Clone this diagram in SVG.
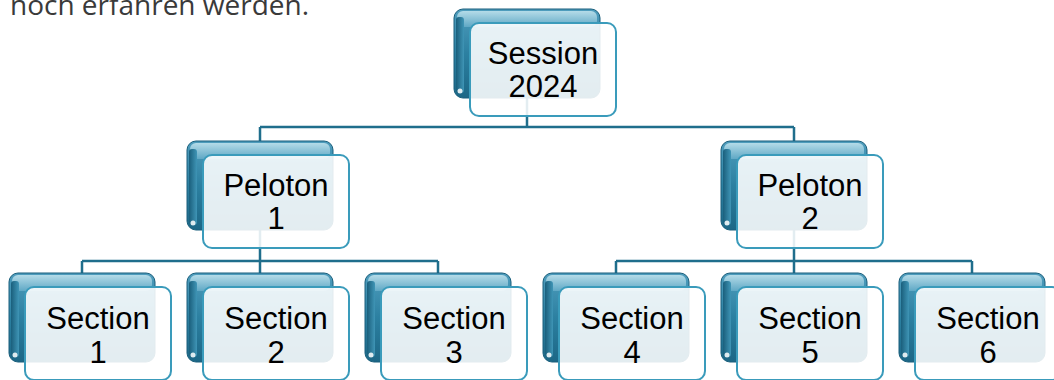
<svg xmlns="http://www.w3.org/2000/svg" width="1054" height="380" viewBox="0 0 1054 380">
<defs>
<linearGradient id="gBack" x1="0" y1="0" x2="0" y2="1">
<stop offset="0" stop-color="#4f9dbd"/>
<stop offset="0.5" stop-color="#2c80a1"/>
<stop offset="1" stop-color="#1c6786"/>
</linearGradient>
<linearGradient id="gHl" x1="0" y1="0" x2="0" y2="1">
<stop offset="0" stop-color="#b4dbe8"/>
<stop offset="1" stop-color="#5fa8c5"/>
</linearGradient>
<linearGradient id="gEdge" x1="0" y1="0" x2="1" y2="0">
<stop offset="0" stop-color="#1a5f7c"/>
<stop offset="1" stop-color="#3f95b6"/>
</linearGradient>
<style>
.back{fill:url(#gBack);stroke:#1a5f7c;stroke-width:1}
.hl{fill:url(#gHl)}
.edge{fill:url(#gEdge)}
.dot{fill:#ffffff;opacity:0.85}
.front{fill:#ffffff;fill-opacity:0.88;stroke:#3a9bbb;stroke-width:2}
.lbl{font-family:"Liberation Sans",Arial,sans-serif;font-size:31px;fill:#000000;text-anchor:middle}
.conn{fill:none;stroke:#1f6e8c;stroke-width:2.5}
.top{font-family:"Open Sans",sans-serif;font-size:28px;fill:#3a3a3a}
</style>
</defs>
<rect width="1054" height="380" fill="#ffffff"/>
<text class="top" x="10" y="15">noch erfahren werden.</text>
<g id="connectors">
<path class="conn" d="M527,98 V127 M260,127 H794 M260,127 V141 M794,127 V141"/>
<path class="conn" d="M260,230 V261 M82,261 H438 M82,261 V273 M260,261 V273 M438,261 V273"/>
<path class="conn" d="M794,230 V261 M616,261 H972 M616,261 V273 M794,261 V273 M972,261 V273"/>
</g>
<g id="session" transform="translate(454,9)">
<rect class="back" width="146" height="89" rx="9"/>
<rect class="hl" x="3" y="2" width="140" height="16" rx="6"/>
<rect class="edge" x="2" y="8" width="8" height="76" rx="3"/>
<circle class="dot" cx="6" cy="82" r="2.5"/>
<rect class="front" x="16" y="14" width="146" height="93" rx="9"/>
<text class="lbl" x="89" y="55">Session</text>
<text class="lbl" x="89" y="88">2024</text>
</g>
<g id="peloton1" transform="translate(187,141)">
<rect class="back" width="146" height="89" rx="9"/>
<rect class="hl" x="3" y="2" width="140" height="16" rx="6"/>
<rect class="edge" x="2" y="8" width="8" height="76" rx="3"/>
<circle class="dot" cx="6" cy="82" r="2.5"/>
<rect class="front" x="16" y="14" width="146" height="93" rx="9"/>
<text class="lbl" x="89" y="55">Peloton</text>
<text class="lbl" x="89" y="88">1</text>
</g>
<g id="peloton2" transform="translate(721,141)">
<rect class="back" width="146" height="89" rx="9"/>
<rect class="hl" x="3" y="2" width="140" height="16" rx="6"/>
<rect class="edge" x="2" y="8" width="8" height="76" rx="3"/>
<circle class="dot" cx="6" cy="82" r="2.5"/>
<rect class="front" x="16" y="14" width="146" height="93" rx="9"/>
<text class="lbl" x="89" y="55">Peloton</text>
<text class="lbl" x="89" y="88">2</text>
</g>
<g id="section1" transform="translate(9,273)">
<rect class="back" width="146" height="89" rx="9"/>
<rect class="hl" x="3" y="2" width="140" height="16" rx="6"/>
<rect class="edge" x="2" y="8" width="8" height="76" rx="3"/>
<circle class="dot" cx="6" cy="82" r="2.5"/>
<rect class="front" x="16" y="14" width="146" height="93" rx="9"/>
<text class="lbl" x="89" y="56">Section</text>
<text class="lbl" x="89" y="90">1</text>
</g>
<g id="section2" transform="translate(187,273)">
<rect class="back" width="146" height="89" rx="9"/>
<rect class="hl" x="3" y="2" width="140" height="16" rx="6"/>
<rect class="edge" x="2" y="8" width="8" height="76" rx="3"/>
<circle class="dot" cx="6" cy="82" r="2.5"/>
<rect class="front" x="16" y="14" width="146" height="93" rx="9"/>
<text class="lbl" x="89" y="56">Section</text>
<text class="lbl" x="89" y="90">2</text>
</g>
<g id="section3" transform="translate(365,273)">
<rect class="back" width="146" height="89" rx="9"/>
<rect class="hl" x="3" y="2" width="140" height="16" rx="6"/>
<rect class="edge" x="2" y="8" width="8" height="76" rx="3"/>
<circle class="dot" cx="6" cy="82" r="2.5"/>
<rect class="front" x="16" y="14" width="146" height="93" rx="9"/>
<text class="lbl" x="89" y="56">Section</text>
<text class="lbl" x="89" y="90">3</text>
</g>
<g id="section4" transform="translate(543,273)">
<rect class="back" width="146" height="89" rx="9"/>
<rect class="hl" x="3" y="2" width="140" height="16" rx="6"/>
<rect class="edge" x="2" y="8" width="8" height="76" rx="3"/>
<circle class="dot" cx="6" cy="82" r="2.5"/>
<rect class="front" x="16" y="14" width="146" height="93" rx="9"/>
<text class="lbl" x="89" y="56">Section</text>
<text class="lbl" x="89" y="90">4</text>
</g>
<g id="section5" transform="translate(721,273)">
<rect class="back" width="146" height="89" rx="9"/>
<rect class="hl" x="3" y="2" width="140" height="16" rx="6"/>
<rect class="edge" x="2" y="8" width="8" height="76" rx="3"/>
<circle class="dot" cx="6" cy="82" r="2.5"/>
<rect class="front" x="16" y="14" width="146" height="93" rx="9"/>
<text class="lbl" x="89" y="56">Section</text>
<text class="lbl" x="89" y="90">5</text>
</g>
<g id="section6" transform="translate(899,273)">
<rect class="back" width="146" height="89" rx="9"/>
<rect class="hl" x="3" y="2" width="140" height="16" rx="6"/>
<rect class="edge" x="2" y="8" width="8" height="76" rx="3"/>
<circle class="dot" cx="6" cy="82" r="2.5"/>
<rect class="front" x="16" y="14" width="146" height="93" rx="9"/>
<text class="lbl" x="89" y="56">Section</text>
<text class="lbl" x="89" y="90">6</text>
</g>
</svg>
